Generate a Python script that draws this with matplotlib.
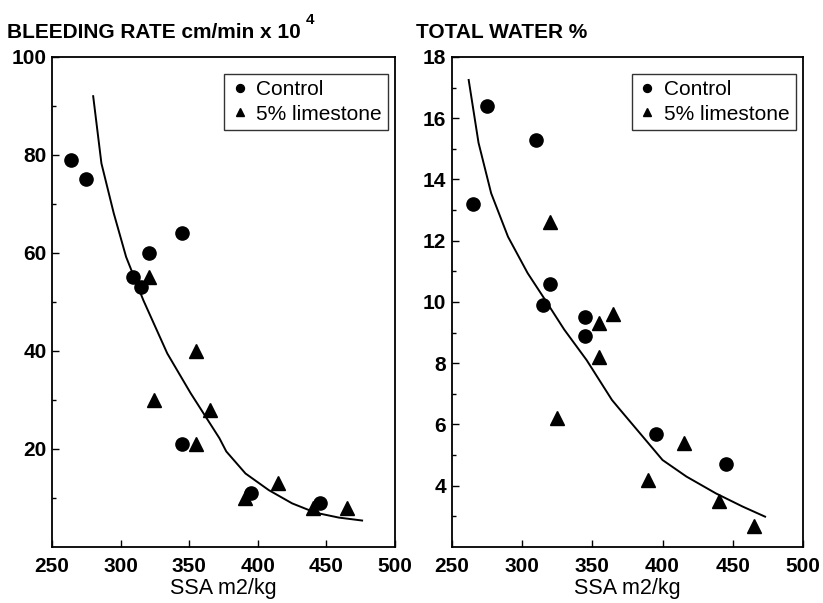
"""
Bleeding rate and total water vs SSA, control vs 5% limestone.
"""

import matplotlib
matplotlib.use("Agg")
import matplotlib.pyplot as plt

plt.rcParams["font.family"] = ["Liberation Sans", "DejaVu Sans"]

# bleeding rate panel
bleed_ctrl_x = [264, 275, 309, 315, 321, 345, 345, 395, 445]
bleed_ctrl_y = [79, 75, 55, 53, 60, 64, 21, 11, 9]
bleed_lime_x = [321, 324, 355, 355, 365, 391, 415, 440, 465]
bleed_lime_y = [55, 30, 40, 21, 28, 10, 13, 8, 8]
bleed_fit_x = [280, 286, 295, 304, 316.5, 334, 351, 372, 377, 391, 408, 425, 442, 459, 476]
bleed_fit_y = [92, 78.3, 68.1, 59.2, 50.4, 39.5, 31.4, 22.2, 19.5, 15.0, 11.6, 8.9, 7.0, 6.0, 5.4]

# total water panel
water_ctrl_x = [265, 275, 310, 315, 320, 345, 345, 395, 445]
water_ctrl_y = [13.2, 16.4, 15.3, 9.9, 10.6, 9.5, 8.9, 5.7, 4.7]
water_lime_x = [320, 325, 355, 355, 365, 390, 415, 440, 465]
water_lime_y = [12.6, 6.2, 9.3, 8.2, 9.6, 4.2, 5.4, 3.5, 2.7]
water_fit_x = [262, 269, 278, 290, 304, 316, 330, 346, 364, 370, 384, 400, 417, 438, 457, 473]
water_fit_y = [17.25, 15.2, 13.55, 12.13, 10.94, 10.1, 9.1, 8.1, 6.8, 6.47, 5.71, 4.84, 4.3, 3.75, 3.32, 2.99]

X_TICKS = [250, 300, 350, 400, 450, 500]
BLEED_TICKS = [20, 40, 60, 80, 100]
BLEED_MINOR = [10, 30, 50, 70, 90]
WATER_TICKS = [4, 6, 8, 10, 12, 14, 16, 18]
WATER_MINOR = [3, 5, 7, 9, 11, 13, 15, 17]


def style_axes(ax, ylim, yticks, yminor):
    ax.set_xlim(250, 500)
    ax.set_ylim(*ylim)
    ax.set_xticks(X_TICKS)
    ax.set_yticks(yticks)
    ax.set_yticks(yminor, minor=True)
    ax.tick_params(axis="both", which="both", direction="in", top=False, right=False)
    ax.tick_params(which="major", length=5, width=1, labelsize=15)
    ax.tick_params(axis="x", which="major", pad=7)
    ax.tick_params(axis="y", which="major", pad=4)
    ax.tick_params(which="minor", length=3, width=1)
    for lab in ax.get_xticklabels() + ax.get_yticklabels():
        lab.set_fontweight("bold")
    for sp in ax.spines.values():
        sp.set_linewidth(1.3)
    ax.set_xlabel("SSA m2/kg", fontsize=15.5, labelpad=2)
    leg = ax.legend(loc="upper right", bbox_to_anchor=(0.98, 0.965), fontsize=15,
                    frameon=True, fancybox=False, edgecolor="black",
                    handletextpad=0.35, borderpad=0.3, borderaxespad=0.0,
                    labelspacing=0.25, handlelength=0.9, markerscale=0.6)
    leg.get_frame().set_linewidth(1.0)


def build_chart():
    fig = plt.figure(figsize=(8.23, 6.03), dpi=100)
    ax1 = fig.add_axes([0.0632, 0.0929, 0.4168, 0.8126])
    ax2 = fig.add_axes([0.549, 0.0929, 0.4267, 0.8126])

    ms = 9.5
    ax1.plot(bleed_ctrl_x, bleed_ctrl_y, "o", color="black", ms=ms, label="Control")
    ax1.plot(bleed_lime_x, bleed_lime_y, "^", color="black", ms=ms, label="5% limestone")
    ax1.plot(bleed_fit_x, bleed_fit_y, "-", color="black", lw=1.4)
    style_axes(ax1, (0, 100), BLEED_TICKS, BLEED_MINOR)

    ax2.plot(water_ctrl_x, water_ctrl_y, "o", color="black", ms=ms, label="Control")
    ax2.plot(water_lime_x, water_lime_y, "^", color="black", ms=ms, label="5% limestone")
    ax2.plot(water_fit_x, water_fit_y, "-", color="black", lw=1.4)
    style_axes(ax2, (2, 18), WATER_TICKS, WATER_MINOR)

    fig.text(0.009, 0.93, "BLEEDING RATE cm/min x 10", fontsize=15,
             fontweight="bold", ha="left", va="bottom")
    fig.text(0.372, 0.955, "4", fontsize=11, fontweight="bold",
             ha="left", va="bottom")
    fig.text(0.506, 0.93, "TOTAL WATER %", fontsize=15,
             fontweight="bold", ha="left", va="bottom")

    fig.savefig("out.png", dpi=100)
    plt.close(fig)


if __name__ == "__main__":
    build_chart()
